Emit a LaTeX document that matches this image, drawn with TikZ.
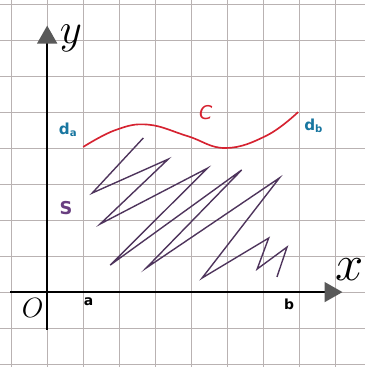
\RequirePackage{fix-cm}
\documentclass[tikz,border=0pt]{standalone}
\usepackage{fontspec}
\setsansfont{DejaVu Sans}
\usetikzlibrary{arrows.meta,positioning}
\definecolor{gridgray}{RGB}{185,178,178}
\definecolor{curvered}{RGB}{214,34,48}
\definecolor{zigpurple}{RGB}{78,52,92}
\definecolor{labelpurple}{RGB}{104,62,128}
\definecolor{labelteal}{RGB}{24,118,160}

\begin{document}
\begin{tikzpicture}[x=1cm, y=1cm,
  every node/.style={inner sep=1pt},
  gridline/.style={gridgray, line width=0.45pt},
  axis/.style={line width=1.7pt, -{Triangle[length=5mm,width=5.5mm,fill=black!65,color=black!65]}},
  ptlabel/.style={font=\sffamily\bfseries\fontsize{11}{11}\selectfont},
  dlabel/.style={font=\sffamily\bfseries\fontsize{12}{12}\selectfont, text=labelteal}]
\useasboundingbox (-1.31,-2.08) rectangle (8.83,8.11);
\fill[white] (-1.31,-2.08) rectangle (8.83,8.11);
\draw[gridline] (-1.31,-2.08) grid (8.83,8.11);

% axes
\draw[axis] (-1.03,0) -- (8.2,0);
\draw[axis] (0,-1.05) -- (0,7.4);
\node (xlab) at (8.4,0.62) {\fontsize{40}{40}\selectfont$x$};
\node (ylab) at (0.66,7.05) {\fontsize{34}{34}\selectfont$y$};
\node (O) at (-0.4,-0.45) {\fontsize{22}{22}\selectfont$O$};
\node[ptlabel] (a) at (1.15,-0.28) {a};
\node[ptlabel] (b) at (6.72,-0.35) {b};

% curve C from d_a to d_b
\draw[curvered, line width=1.3pt] plot[smooth, tension=0.7] coordinates
  {(1,4.03) (1.9,4.5) (2.8,4.65) (3.9,4.33) (4.95,4.0) (6.1,4.35) (6.97,5.0)};
\node[dlabel] (da) at (0.58,4.5) {d\textsubscript{a}};
\node[dlabel] (db) at (7.4,4.62) {d\textsubscript{b}};
\node[text=curvered, font=\sffamily\itshape\fontsize{15}{15}\selectfont] (C) at (4.4,4.98) {C};

% zigzag S
\draw[zigpurple, line width=1.1pt, line join=miter] (2.67,4.28) -- (1.25,2.75) -- (3.36,3.69)
  -- (1.47,1.89) -- (4.45,3.44) -- (1.75,0.75) -- (5.4,3.39) -- (2.75,0.67)
  -- (6.45,3.17) -- (4.3,0.39) -- (6.15,1.5) -- (5.83,0.64) -- (6.66,1.25) -- (6.38,0.42);
\node[text=labelpurple, font=\sffamily\bfseries\fontsize{14}{14}\selectfont] (S) at (0.52,2.33) {S};
\end{tikzpicture}
\end{document}
